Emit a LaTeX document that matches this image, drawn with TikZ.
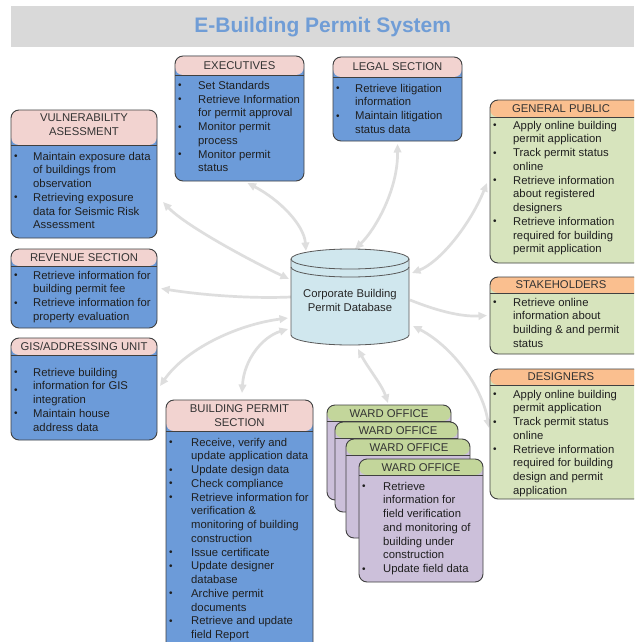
\documentclass[tikz,border=0pt]{standalone}
\usepackage{fontspec}
\setmainfont{Liberation Sans}
\usetikzlibrary{arrows.meta,calc}
\pgfdeclarelayer{background}
\pgfsetlayers{background,main}
\definecolor{bluebody}{RGB}{108,155,217}
\definecolor{headpink}{RGB}{242,211,208}
\definecolor{greenbody}{RGB}{215,228,189}
\definecolor{headorange}{RGB}{250,191,143}
\definecolor{wardhead}{RGB}{195,214,155}
\definecolor{wardbody}{RGB}{204,192,218}
\definecolor{dbfill}{RGB}{208,231,238}
\definecolor{bannergray}{RGB}{217,217,217}
\definecolor{titleblue}{RGB}{112,157,214}
\definecolor{arrowgray}{RGB}{222,222,222}
\tikzset{
  >={Triangle[length=8.5pt,width=7.5pt]},
  boxline/.style={draw=black!75, line width=0.9pt},
  pboxst/.style={boxline, rounded corners=8pt, inner sep=0pt, outer sep=0pt},
  headtxt/.style={font=\fontsize{11.3}{13.8}\selectfont, text=black!80, inner sep=0pt, align=center},
  listtxt/.style={font=\fontsize{11.3}{13.75}\selectfont, text=black!88, inner sep=0pt, anchor=north west},
  conn/.style={draw=arrowgray, line width=2.7pt},
  dbline/.style={draw=black!65, line width=0.8pt}
}
\newcommand\bu{\raisebox{0.4pt}{\fontsize{10}{10}\selectfont\textbullet}}
% name, x, y, w, h, header height, body colour, header colour
\newcommand\pbox[8]{%
  \node[pboxst, fill=#7, minimum width=#4pt, minimum height=#5pt, anchor=north west,
    path picture={%
      \fill[#8] (path picture bounding box.north west) rectangle ([yshift=-#6pt]path picture bounding box.north east);
      \draw[boxline] ([yshift=-#6pt]path picture bounding box.north west) -- ([yshift=-#6pt]path picture bounding box.north east);
    }] (#1) at (#2,#3) {};}
\begin{document}
\begin{tikzpicture}[x=1pt,y=-1pt]
\useasboundingbox (0,0) rectangle (634,642);
\clip (0,0) rectangle (634,642);

% title banner
\node[fill=bannergray, minimum width=623pt, minimum height=41pt, anchor=north west, inner sep=0pt,
  font=\fontsize{21}{24}\selectfont\bfseries, text=titleblue] (title) at (11,6) {E-Building Permit System};

% database
\node[minimum width=118pt, minimum height=96pt, inner sep=0pt, outer sep=0pt] (db) at (350,297) {};
\fill[dbfill] (291,259) -- (291,335) .. controls (291,340.5) and (317.4,345) .. (350,345)
  .. controls (382.6,345) and (409,340.5) .. (409,335) -- (409,259)
  .. controls (409,253.5) and (382.6,249) .. (350,249) .. controls (317.4,249) and (291,253.5) .. (291,259) -- cycle;
\draw[dbline] (291,259) -- (291,335) .. controls (291,340.5) and (317.4,345) .. (350,345)
  .. controls (382.6,345) and (409,340.5) .. (409,335) -- (409,259)
  .. controls (409,253.5) and (382.6,249) .. (350,249) .. controls (317.4,249) and (291,253.5) .. (291,259) -- cycle;
\draw[dbline] (291,259) .. controls (291,264.5) and (317.4,269) .. (350,269) .. controls (382.6,269) and (409,264.5) .. (409,259);
\draw[dbline] (291,267) .. controls (291,272.5) and (317.4,277) .. (350,277) .. controls (382.6,277) and (409,272.5) .. (409,267);
\node[headtxt, font=\fontsize{11.3}{14}\selectfont, text=black!85] (dbt) at (350,300) {Corporate Building\\Permit Database};

% EXECUTIVES
\pbox{exec}{175}{56}{129}{125}{19}{bluebody}{headpink}
\node[headtxt] (exech) at (239.5,65.5) {EXECUTIVES};
\node[listtxt] (execl) at (178,79.5) {\begin{tabular}{@{}p{20pt}@{}l@{}}
\bu & Set Standards\\
\bu & Retrieve Information\\
 & for permit approval\\
\bu & Monitor permit\\
 & process\\
\bu & Monitor permit\\
 & status
\end{tabular}};

% LEGAL SECTION
\pbox{legal}{333}{57}{129}{84}{20}{bluebody}{headpink}
\node[headtxt] (legalh) at (397.5,67) {LEGAL SECTION};
\node[listtxt] (legall) at (336,82.3) {\begin{tabular}{@{}p{19pt}@{}l@{}}
\bu & Retrieve litigation\\
 & information\\
\bu & Maintain litigation\\
 & status data
\end{tabular}};

% VULNERABILITY
\pbox{vul}{11}{110}{146}{128}{35}{bluebody}{headpink}
\node[headtxt] (vulh) at (84,125) {VULNERABILITY\\ASESSMENT};
\node[listtxt] (vull) at (14,150.3) {\begin{tabular}{@{}p{19pt}@{}l@{}}
\bu & Maintain exposure data\\
 & of buildings from\\
 & observation\\
\bu & Retrieving exposure\\
 & data for Seismic Risk\\
 & Assessment
\end{tabular}};

% REVENUE
\pbox{rev}{11}{249}{146}{79}{17}{bluebody}{headpink}
\node[headtxt] (revh) at (84,257.5) {REVENUE SECTION};
\node[listtxt] (revl) at (14,269.3) {\begin{tabular}{@{}p{19pt}@{}l@{}}
\bu & Retrieve information for\\
 & building permit fee\\
\bu & Retrieve information for\\
 & property evaluation
\end{tabular}};

% GIS
\pbox{gis}{11}{338}{146}{102}{17}{bluebody}{headpink}
\node[headtxt] (gish) at (84,346.5) {GIS/ADDRESSING UNIT};
\node[listtxt] (gisl) at (14,366.3) {\begin{tabular}{@{}p{19pt}@{}l@{}}
\bu & Retrieve building\\
\raisebox{-4pt}{\bu} & information for GIS\\
 & integration\\
\bu & Maintain house\\
 & address data
\end{tabular}};

% GENERAL PUBLIC
\pbox{gp}{490}{100}{152}{163}{17}{greenbody}{headorange}
\node[headtxt] (gph) at (561,108.5) {GENERAL PUBLIC};
\node[listtxt] (gpl) at (493,119.3) {\begin{tabular}{@{}p{20pt}@{}l@{}}
\bu & Apply online building\\
 & permit application\\
\bu & Track permit status\\
 & online\\
\bu & Retrieve information\\
 & about registered\\
 & designers\\
\bu & Retrieve information\\
 & required for building\\
 & permit application
\end{tabular}};

% STAKEHOLDERS
\pbox{stake}{490}{277}{152}{77}{16}{greenbody}{headorange}
\node[headtxt] (stakeh) at (561,285) {STAKEHOLDERS};
\node[listtxt] (stakel) at (493,296.3) {\begin{tabular}{@{}p{20pt}@{}l@{}}
\bu & Retrieve online\\
 & information about\\
 & building \& and permit\\
 & status
\end{tabular}};

% DESIGNERS
\pbox{des}{490}{369}{152}{130}{16}{greenbody}{headorange}
\node[headtxt] (desh) at (561,377) {DESIGNERS};
\node[listtxt] (desl) at (493,388.3) {\begin{tabular}{@{}p{20pt}@{}l@{}}
\bu & Apply online building\\
 & permit application\\
\bu & Track permit status\\
 & online\\
\bu & Retrieve information\\
 & required for building\\
 & design and permit\\
 & application
\end{tabular}};

% BUILDING PERMIT SECTION
\pbox{bps}{166}{400}{147}{260}{31}{bluebody}{headpink}
\node[headtxt] (bpsh) at (239.5,416) {BUILDING PERMIT\\SECTION};
\node[listtxt] (bpsl) at (169,436.3) {\begin{tabular}{@{}p{22pt}@{}l@{}}
\bu & Receive, verify and\\
 & update application data\\
\bu & Update design data\\
\bu & Check compliance\\
\bu & Retrieve information for\\
 & verification \&\\
 & monitoring of building\\
 & construction\\
\bu & Issue certificate\\
\bu & Update designer\\
 & database\\
\bu & Archive permit\\
 & documents\\
\bu & Retrieve and update\\
 & field Report
\end{tabular}};

% WARD OFFICES
\pbox{ward1}{327}{405}{124}{95}{16}{wardbody}{wardhead}
\node[headtxt] (ward1h) at (389,413.5) {WARD OFFICE};
\pbox{ward2}{335}{422}{123}{90}{16}{wardbody}{wardhead}
\node[headtxt] (ward2h) at (398,430.5) {WARD OFFICE};
\pbox{ward3}{346}{439}{124}{99}{16}{wardbody}{wardhead}
\node[headtxt] (ward3h) at (409,447.5) {WARD OFFICE};
\pbox{ward4}{359}{459}{124}{123}{16}{wardbody}{wardhead}
\node[headtxt] (ward4h) at (421,467.5) {WARD OFFICE};
\node[listtxt] (ward4l) at (362,480.3) {\begin{tabular}{@{}p{21pt}@{}l@{}}
\bu & Retrieve\\
 & information for\\
 & field verification\\
 & and monitoring of\\
 & building under\\
 & construction\\
\bu & Update field data
\end{tabular}};

% connectors
\begin{pgfonlayer}{background}
\fill[white] (0,0) rectangle (634,642);
\draw[conn,<->] ($(vul.east)+(6,28)$) .. controls (185,225) and (245,258) .. ($(db.west)+(-2,-18)$);
\draw[conn,<->] ($(exec.south)+(8,2)$) .. controls (280,200) and (304,225) .. ($(db.north)+(-44,2)$);
\draw[conn,<->] ($(legal.south)+(0,3)$) .. controls (398,190) and (375,230) .. ($(db.north)+(5,0)$);
\draw[conn,<->] ($(db.east)+(3,-24)$) .. controls (440,262) and (470,225) .. ($(gp.west)+(-3,1.5)$);
\draw[conn,->] ($(db.east)+(1,3)$) .. controls (435,310) and (460,317) .. ($(stake.west)+(-3,0)$);
\draw[conn,<->] ($(db.east)+(4,29)$) .. controls (450,345) and (482,385) .. ($(des.west)+(-1,-6)$);
\draw[conn,<->] ($(db.south)+(8,4)$) .. controls (368,368) and (382,385) .. ($(ward1.north)+(-1,-2)$);
\draw[conn,<->] ($(db.west)+(-3,32)$) .. controls (262,337) and (244,360) .. ($(bps.north)+(2.5,-7)$);
\draw[conn,<->] ($(db.west)+(-3,21)$) .. controls (235,325) and (185,350) .. ($(gis.east)+(3,-3)$);
\draw[conn,->] (db.west) .. controls (245,299) and (195,294) .. ($(rev.east)+(4,0)$);
\end{pgfonlayer}
\end{tikzpicture}
\end{document}
